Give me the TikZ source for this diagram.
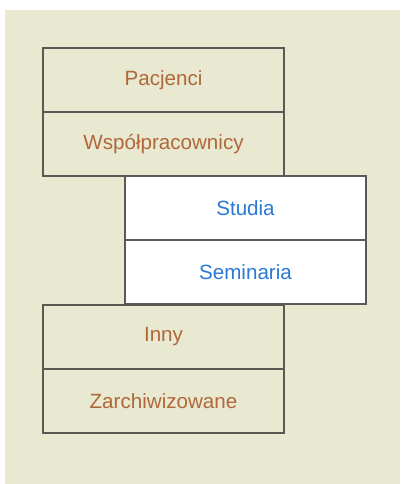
\documentclass[tikz,border=0pt]{standalone}
\usepackage{fontspec}
\setmainfont{Liberation Sans}
\definecolor{bgbeige}{HTML}{E9E8D1}
\definecolor{edgegray}{HTML}{5A5A55}
\definecolor{txtbrown}{HTML}{B0683A}
\definecolor{txtblue}{HTML}{2A7AD5}
\begin{document}
\begin{tikzpicture}[x=1pt,y=-1pt,
  cell/.style={draw=edgegray, line width=1.6pt,
    minimum width=241pt, minimum height=64pt, inner sep=0pt,
    font=\fontsize{20.6}{24}\selectfont},
  browncell/.style={cell, fill=bgbeige, text=txtbrown},
  bluecell/.style={cell, fill=white, text=txtblue}]
\useasboundingbox (0,0) rectangle (400,484);
\fill[white] (0,0) rectangle (400,484);
\fill[bgbeige] (5,10) rectangle (400,484);
\node[browncell] (pacjenci) at (163.5,80) {Pacjenci};
\node[browncell] (wspol) at (163.5,144) {Współpracownicy};
\node[browncell] (inny) at (163.5,337) {Inny};
\node[browncell] (zarch) at (163.5,401) {Zarchiwizowane};
\node[bluecell] (studia) at (245.5,208) {Studia};
\node[bluecell] (seminaria) at (245.5,272) {Seminaria};
\end{tikzpicture}
\end{document}
